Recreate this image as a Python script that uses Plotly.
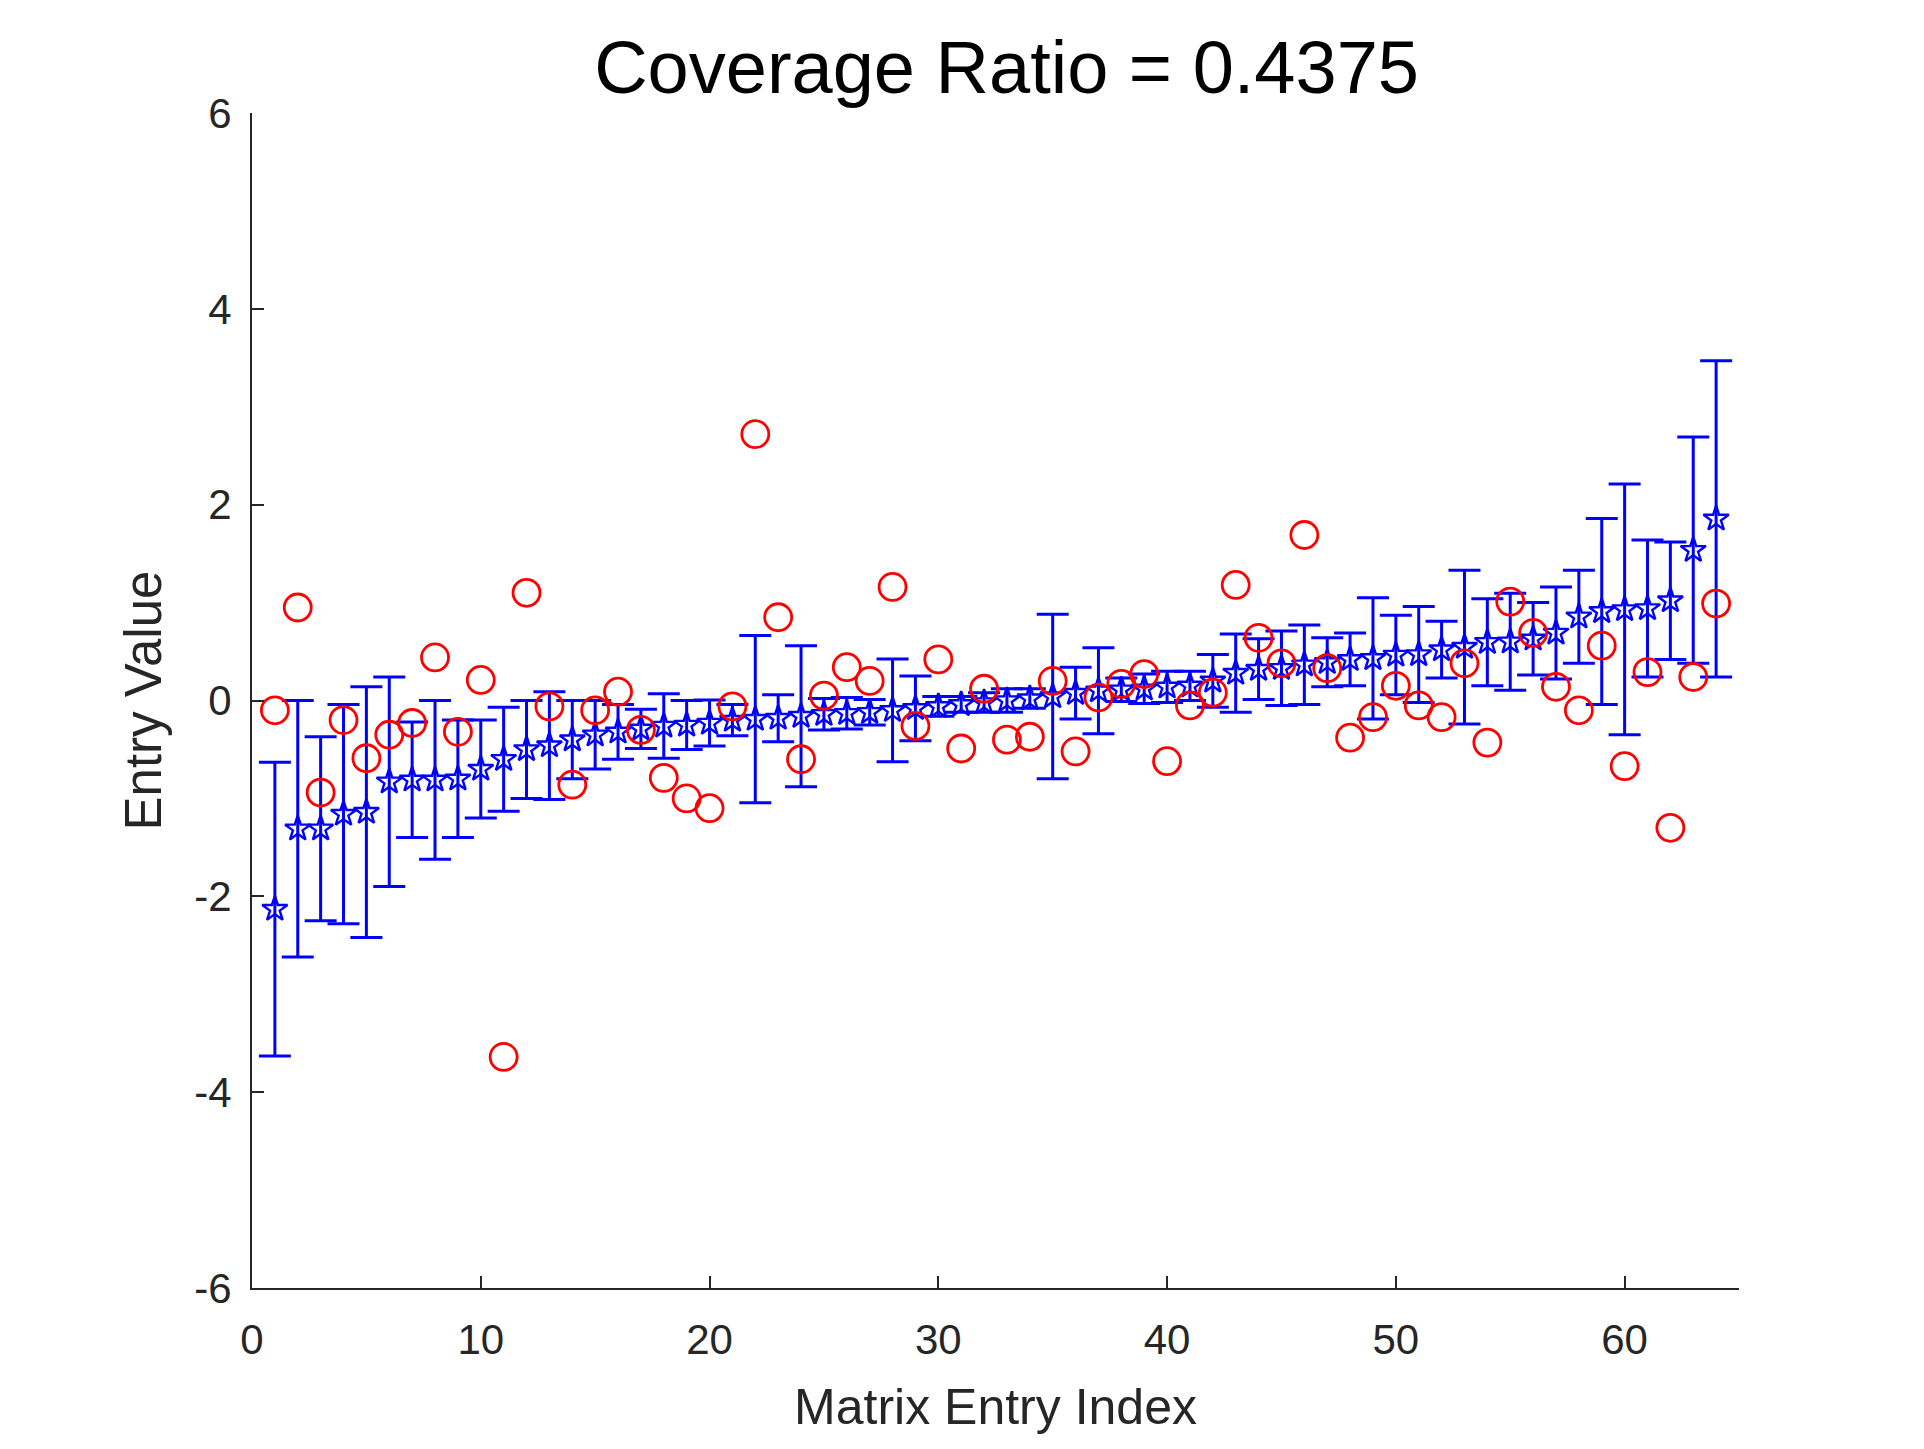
import plotly.graph_objects as go

# Matrix entry index
idx = list(range(1, 65))

# Estimated (sorted) entry values, blue stars
est = [-2.13, -1.31, -1.31, -1.16, -1.14, -0.83, -0.81, -0.81, -0.80, -0.70,
       -0.60, -0.50, -0.46, -0.40, -0.35, -0.32, -0.29, -0.26, -0.25, -0.23,
       -0.20, -0.19, -0.18, -0.16, -0.14, -0.13, -0.12, -0.10, -0.08, -0.06,
       -0.04, -0.02, 0.00, 0.02, 0.04, 0.075, 0.10, 0.11, 0.12, 0.14,
       0.15, 0.20, 0.28, 0.32, 0.33, 0.365, 0.39, 0.42, 0.43, 0.465,
       0.47, 0.52, 0.545, 0.595, 0.60, 0.63, 0.69, 0.855, 0.91, 0.93,
       0.94, 1.02, 1.535, 1.855]

# Half-width of the error bars
err = [1.50, 1.31, 0.94, 1.12, 1.28, 1.07, 0.59, 0.81, 0.60, 0.50,
       0.53, 0.50, 0.55, 0.40, 0.35, 0.28, 0.20, 0.33, 0.25, 0.235,
       0.16, 0.855, 0.24, 0.72, 0.16, 0.16, 0.13, 0.525, 0.33, 0.10,
       0.08, 0.10, 0.12, 0.10, 0.84, 0.265, 0.44, 0.12, 0.15, 0.16,
       0.15, 0.27, 0.40, 0.31, 0.38, 0.405, 0.25, 0.27, 0.62, 0.405,
       0.49, 0.29, 0.785, 0.445, 0.495, 0.37, 0.47, 0.475, 0.95, 1.28,
       0.70, 0.60, 1.155, 1.615]

# True entry values, red circles
true_vals = [-0.10, 0.95, -0.94, -0.20, -0.59, -0.35, -0.23, 0.44, -0.32, 0.21,
             -3.64, 1.10, -0.06, -0.86, -0.10, 0.09, -0.30, -0.79, -1.00, -1.10,
             -0.06, 2.72, 0.85, -0.60, 0.05, 0.34, 0.20, 1.16, -0.26, 0.42,
             -0.49, 0.12, -0.40, -0.37, 0.20, -0.52, 0.03, 0.17, 0.27, -0.62,
             -0.05, 0.08, 1.18, 0.64, 0.38, 1.69, 0.33, -0.38, -0.17, 0.15,
             -0.05, -0.17, 0.38, -0.43, 1.01, 0.69, 0.14, -0.10, 0.56, -0.67,
             0.29, -1.30, 0.24, 0.99]

x_ticks = [0, 10, 20, 30, 40, 50, 60]
y_ticks = [-6, -4, -2, 0, 2, 4, 6]

BLUE = "#0000FF"
RED = "#FF0000"
AX = "#262626"
FONT = "Liberation Sans, Arial, Helvetica, sans-serif"

fig = go.Figure()

fig.add_trace(go.Scatter(
    x=idx, y=est, mode="markers",
    marker=dict(symbol="star-open", size=19, color=BLUE, line=dict(width=2.4, color=BLUE)),
    error_y=dict(type="data", array=err, symmetric=True, color=BLUE, thickness=3, width=16),
    showlegend=False,
))

fig.add_trace(go.Scatter(
    x=idx, y=true_vals, mode="markers",
    marker=dict(symbol="circle-open", size=27, color=RED, line=dict(width=2.8, color=RED)),
    showlegend=False,
))

fig.update_layout(
    width=1924, height=1449,
    margin=dict(l=244, r=193, t=105, b=169),
    paper_bgcolor="white", plot_bgcolor="white",
    font=dict(family=FONT, color=AX),
    title=dict(text="Coverage Ratio = 0.4375", x=0.519, xanchor="center",
               y=1 - 59 / 1449, yanchor="middle",
               font=dict(family=FONT, size=74, color="black")),
)

fig.update_xaxes(
    range=[0, 65], tickvals=x_ticks, ticktext=[str(v) for v in x_ticks],
    showgrid=False, zeroline=False, showline=True, linecolor=AX, linewidth=2,
    ticks="inside", ticklen=12, tickwidth=2, tickcolor=AX,
    tickfont=dict(family=FONT, size=42, color=AX), ticklabelstandoff=14,
    title=dict(text="Matrix Entry Index", font=dict(family=FONT, size=50, color=AX), standoff=27),
)
fig.update_yaxes(
    range=[-6, 6], tickvals=y_ticks, ticktext=[str(v) for v in y_ticks],
    showgrid=False, zeroline=False, showline=True, linecolor=AX, linewidth=2,
    ticks="inside", ticklen=12, tickwidth=2, tickcolor=AX,
    tickfont=dict(family=FONT, size=42, color=AX), ticklabelstandoff=10,
    title=dict(text="Entry Value", font=dict(family=FONT, size=51, color=AX), standoff=16),
)

fig.write_html("out.html")
